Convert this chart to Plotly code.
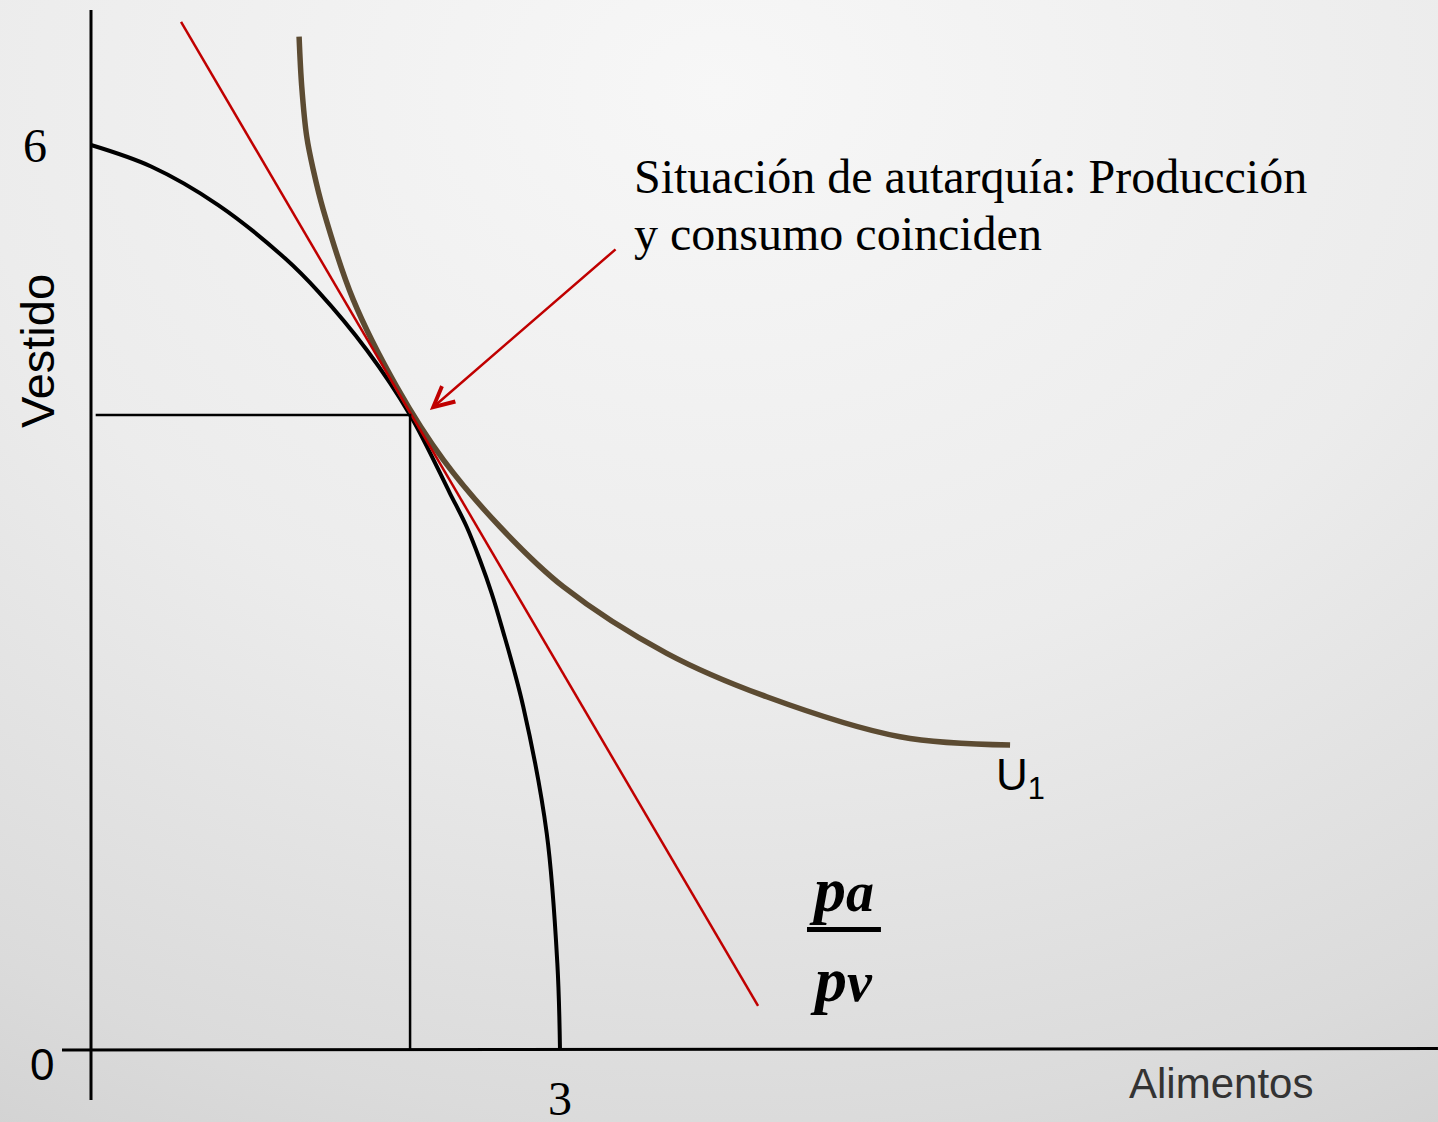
import base64
import plotly.graph_objects as go

# ---- data (economic units: Alimentos on x, Vestido on y) ----
ppf_x = [0.0, 0.388, 0.814, 1.241, 1.454, 1.764, 2.041, 2.296, 2.403, 2.488, 2.563, 2.627, 2.765,
         2.915, 2.983, 3.0]
ppf_y = [6.0, 5.856, 5.602, 5.249, 5.028, 4.641, 4.210, 3.691, 3.469, 3.249, 3.028, 2.807, 2.276,
         1.437, 0.575, 0.0]

u1_x = [1.331, 1.348, 1.380, 1.422, 1.486, 1.678, 1.955, 2.254, 2.616, 3.021, 3.683, 4.322, 5.175, 5.879]
u1_y = [6.718, 6.387, 6.055, 5.834, 5.569, 4.973, 4.398, 3.912, 3.469, 3.072, 2.630, 2.342, 2.077, 2.022]

price_x = [0.576, 4.267]
price_y = [6.816, 0.292]

autarky_x = 2.041
autarky_y = 4.210

tick_labels = {"y_top": "6", "origin": "0", "x_right": "3"}

# ---- figure ----
W, H = 1438, 1122
XR = [-0.5821, 8.6163]
YR = [-0.4774, 6.9614]

svg = f'''<svg xmlns="http://www.w3.org/2000/svg" width="{W}" height="{H}">
<defs><radialGradient id="g" cx="50%" cy="8%" r="115%">
<stop offset="0" stop-color="#f7f7f7"/><stop offset="0.45" stop-color="#ececec"/>
<stop offset="0.8" stop-color="#dbdbdb"/><stop offset="1" stop-color="#cdcdcd"/>
</radialGradient></defs><rect width="{W}" height="{H}" fill="url(#g)"/></svg>'''
bg = "data:image/svg+xml;base64," + base64.b64encode(svg.encode()).decode()

fig = go.Figure()

fig.add_trace(go.Scatter(x=ppf_x, y=ppf_y, mode="lines",
                         line=dict(color="#000000", width=4, shape="spline", smoothing=1.0),
                         hoverinfo="skip"))
fig.add_trace(go.Scatter(x=u1_x, y=u1_y, mode="lines",
                         line=dict(color="#5c4b32", width=5.5, shape="spline", smoothing=1.0),
                         hoverinfo="skip"))
fig.add_trace(go.Scatter(x=price_x, y=price_y, mode="lines",
                         line=dict(color="#c00000", width=2.5), hoverinfo="skip"))
# dropped lines to axes
fig.add_trace(go.Scatter(x=[0.03, autarky_x, autarky_x], y=[autarky_y, autarky_y, 0],
                         mode="lines", line=dict(color="#000000", width=2.5), hoverinfo="skip"))

shapes = [
    # axes
    dict(type="line", x0=0, x1=0, y0=6.895, y1=-0.331, line=dict(color="black", width=3)),
    dict(type="line", x0=-0.1855, x1=8.616, y0=0, y1=0.01, line=dict(color="black", width=3)),
    # fraction bar
    dict(type="line", x0=4.580, x1=5.053, y0=0.799, y1=0.799, line=dict(color="black", width=5)),
]

serif = "Liberation Serif"
sans = "Liberation Sans"
ann = [
    dict(x=-0.358, y=6.0, text=tick_labels["y_top"], font=dict(family=serif, size=48, color="black"),
         showarrow=False, xanchor="center", yanchor="middle"),
    dict(x=3.0, y=-0.32, text=tick_labels["x_right"], font=dict(family=serif, size=48, color="black"),
         showarrow=False, xanchor="center", yanchor="middle"),
    dict(x=-0.313, y=-0.099, text=tick_labels["origin"], font=dict(family=sans, size=44, color="black"),
         showarrow=False, xanchor="center", yanchor="middle"),
    dict(x=-0.345, y=4.634, text="Vestido", textangle=-90, font=dict(family=sans, size=47, color="black"),
         showarrow=False, xanchor="center", yanchor="middle"),
    dict(x=7.225, y=-0.222, text="Alimentos", font=dict(family=sans, size=42, color="#333333"),
         showarrow=False, xanchor="center", yanchor="middle"),
    dict(x=5.776, y=1.803, text="U<sub>1</sub>", font=dict(family=sans, size=44, color="black"),
         showarrow=False, xanchor="left", yanchor="middle"),
    dict(x=3.461, y=(1050 - 177) / 150.83, text="Situación de autarquía: Producción",
         font=dict(family=serif, size=48, color="black"), showarrow=False, xanchor="left", yanchor="middle"),
    dict(x=3.461, y=(1050 - 234) / 150.83, text="y consumo coinciden",
         font=dict(family=serif, size=48, color="black"), showarrow=False, xanchor="left", yanchor="middle"),
    dict(x=4.80, y=1.065, text="<b><i>p</i></b><span style='font-size:56px'><b><i>a</i></b></span>",
         font=dict(family=serif, size=64, color="black"), showarrow=False, xanchor="center", yanchor="middle"),
    dict(x=4.80, y=0.47, text="<b><i>p</i></b><span style='font-size:56px'><b><i>v</i></b></span>",
         font=dict(family=serif, size=64, color="black"), showarrow=False, xanchor="center", yanchor="middle"),
    # arrow
    dict(x=2.168, y=4.243, ax=3.365, ay=5.317, axref="x", ayref="y", xref="x", yref="y",
         text="", showarrow=True, arrowhead=5, arrowsize=1.6, arrowwidth=2.5, arrowcolor="#c00000",
         standoff=0, startstandoff=0),
]

fig.update_layout(
    width=W, height=H,
    margin=dict(l=0, r=0, t=0, b=0),
    paper_bgcolor="#e6e6e6", plot_bgcolor="rgba(0,0,0,0)",
    showlegend=False,
    xaxis=dict(range=XR, visible=False, fixedrange=True),
    yaxis=dict(range=YR, visible=False, fixedrange=True),
    shapes=shapes, annotations=ann,
    images=[dict(source=bg, xref="paper", yref="paper", x=0, y=1, sizex=1, sizey=1,
                 sizing="stretch", xanchor="left", yanchor="top", layer="below")],
)

fig.write_html("out.html", config={"displayModeBar": False},
               post_script="document.body.style.margin='0';document.body.style.overflow='hidden';")
